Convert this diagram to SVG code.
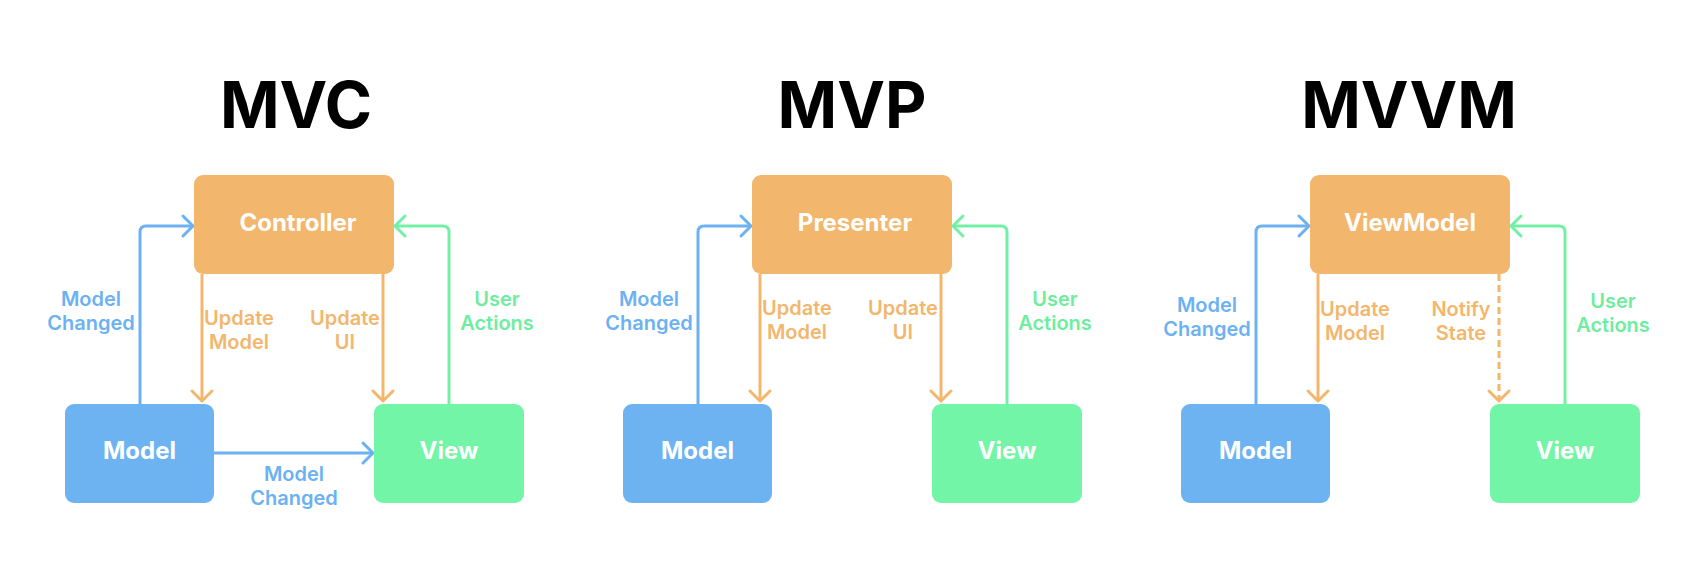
<svg xmlns="http://www.w3.org/2000/svg" width="1687" height="578" viewBox="0 0 1687 578">
<style>
  .title{font-family:Inter,"Liberation Sans",sans-serif;font-weight:700;font-size:64px;fill:#000;text-anchor:middle}
  .node-label{font-family:Inter,"Liberation Sans",sans-serif;font-weight:700;font-size:24px;fill:#fff;text-anchor:middle}
  .lbl{font-family:Inter,"Liberation Sans",sans-serif;font-weight:600;font-size:20px;text-anchor:middle}
  .lb-blue{fill:#6cb2f2}
  .lb-orange{fill:#f3b66d}
  .lb-green{fill:#6fed9f}
  .box-orange{fill:#f3b66d}
  .box-blue{fill:#6db3f2}
  .box-green{fill:#72f5a6}
  .ln{fill:none;stroke-width:3;stroke-linejoin:round}
  .ln-blue{stroke:#6cb2f2;marker-end:url(#ah-blue)}
  .ln-orange{stroke:#f3b66d;marker-end:url(#ah-orange)}
  .ln-green{stroke:#72f0a3;marker-end:url(#ah-green)}
  .dash{stroke-dasharray:7 4}
</style>
<defs>
  <marker id="ah-blue" markerUnits="userSpaceOnUse" orient="auto" refX="0" refY="0" markerWidth="30" markerHeight="30" overflow="visible">
    <path d="M-10,-10 L0,0 L-10,10" fill="none" stroke="#6cb2f2" stroke-width="3" stroke-linecap="round" stroke-linejoin="round"/>
  </marker>
  <marker id="ah-orange" markerUnits="userSpaceOnUse" orient="auto" refX="0" refY="0" markerWidth="30" markerHeight="30" overflow="visible">
    <path d="M-10,-10 L0,0 L-10,10" fill="none" stroke="#f3b66d" stroke-width="3" stroke-linecap="round" stroke-linejoin="round"/>
  </marker>
  <marker id="ah-green" markerUnits="userSpaceOnUse" orient="auto" refX="0" refY="0" markerWidth="30" markerHeight="30" overflow="visible">
    <path d="M-10,-10 L0,0 L-10,10" fill="none" stroke="#72f0a3" stroke-width="3" stroke-linecap="round" stroke-linejoin="round"/>
  </marker>
</defs>
<rect width="1687" height="578" fill="#fff"/>

<text class="title" x="296" y="128">MVC</text>
<text class="title" x="852" y="128">MVP</text>
<text class="title" x="1409" y="128">MVVM</text>

<g id="connectors">
  <!-- MVC -->
  <path class="ln ln-blue" d="M140,404 V232 Q140,226 146,226 H193"/>
  <path class="ln ln-green" d="M449,404 V232 Q449,226 443,226 H395"/>
  <path class="ln ln-orange" d="M202,274 V401"/>
  <path class="ln ln-orange" d="M383,274 V401"/>
  <path class="ln ln-blue" d="M214,453 H373"/>
  <!-- MVP -->
  <path class="ln ln-blue" d="M698,404 V232 Q698,226 704,226 H751"/>
  <path class="ln ln-green" d="M1007,404 V232 Q1007,226 1001,226 H953"/>
  <path class="ln ln-orange" d="M760,274 V401"/>
  <path class="ln ln-orange" d="M941,274 V401"/>
  <!-- MVVM -->
  <path class="ln ln-blue" d="M1256,404 V232 Q1256,226 1262,226 H1309"/>
  <path class="ln ln-green" d="M1565,404 V232 Q1565,226 1559,226 H1511"/>
  <path class="ln ln-orange" d="M1318,274 V401"/>
  <path class="ln ln-orange dash" d="M1499,274 V401"/>
</g>

<g id="connector-labels">
  <text class="lbl lb-blue" x="91" y="306">Model</text>
  <text class="lbl lb-blue" x="91" y="330">Changed</text>
  <text class="lbl lb-orange" x="239" y="325">Update</text>
  <text class="lbl lb-orange" x="239" y="349">Model</text>
  <text class="lbl lb-orange" x="345" y="325">Update</text>
  <text class="lbl lb-orange" x="345" y="349">UI</text>
  <text class="lbl lb-green" x="497" y="306">User</text>
  <text class="lbl lb-green" x="497" y="330">Actions</text>
  <text class="lbl lb-blue" x="294" y="481">Model</text>
  <text class="lbl lb-blue" x="294" y="505">Changed</text>

  <text class="lbl lb-blue" x="649" y="306">Model</text>
  <text class="lbl lb-blue" x="649" y="330">Changed</text>
  <text class="lbl lb-orange" x="797" y="315">Update</text>
  <text class="lbl lb-orange" x="797" y="339">Model</text>
  <text class="lbl lb-orange" x="903" y="315">Update</text>
  <text class="lbl lb-orange" x="903" y="339">UI</text>
  <text class="lbl lb-green" x="1055" y="306">User</text>
  <text class="lbl lb-green" x="1055" y="330">Actions</text>

  <text class="lbl lb-blue" x="1207" y="312">Model</text>
  <text class="lbl lb-blue" x="1207" y="336">Changed</text>
  <text class="lbl lb-orange" x="1355" y="316">Update</text>
  <text class="lbl lb-orange" x="1355" y="340">Model</text>
  <text class="lbl lb-orange" x="1461" y="316">Notify</text>
  <text class="lbl lb-orange" x="1461" y="340">State</text>
  <text class="lbl lb-green" x="1613" y="308">User</text>
  <text class="lbl lb-green" x="1613" y="332">Actions</text>
</g>

<g id="mvc-controller"><rect class="box-orange" x="194" y="175" width="200" height="99" rx="9"/><text class="node-label" x="298" y="231">Controller</text></g>
<g id="mvc-model"><rect class="box-blue" x="65" y="404" width="149" height="99" rx="9"/><text class="node-label" x="139.5" y="459">Model</text></g>
<g id="mvc-view"><rect class="box-green" x="374" y="404" width="150" height="99" rx="9"/><text class="node-label" x="449" y="459">View</text></g>

<g id="mvp-presenter"><rect class="box-orange" x="752" y="175" width="200" height="99" rx="9"/><text class="node-label" x="855" y="231">Presenter</text></g>
<g id="mvp-model"><rect class="box-blue" x="623" y="404" width="149" height="99" rx="9"/><text class="node-label" x="697.5" y="459">Model</text></g>
<g id="mvp-view"><rect class="box-green" x="932" y="404" width="150" height="99" rx="9"/><text class="node-label" x="1007" y="459">View</text></g>

<g id="mvvm-viewmodel"><rect class="box-orange" x="1310" y="175" width="200" height="99" rx="9"/><text class="node-label" x="1410" y="231">ViewModel</text></g>
<g id="mvvm-model"><rect class="box-blue" x="1181" y="404" width="149" height="99" rx="9"/><text class="node-label" x="1255.5" y="459">Model</text></g>
<g id="mvvm-view"><rect class="box-green" x="1490" y="404" width="150" height="99" rx="9"/><text class="node-label" x="1565" y="459">View</text></g>
</svg>
